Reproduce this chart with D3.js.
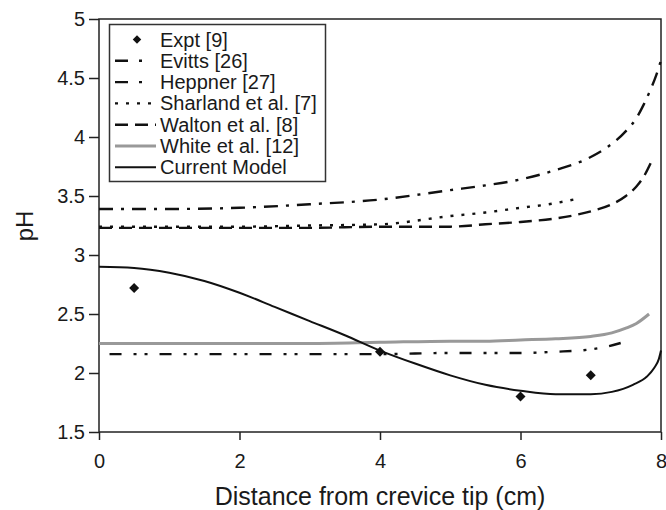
<!DOCTYPE html>
<html>
<head>
<meta charset="utf-8">
<script src="https://cdn.jsdelivr.net/npm/d3@7"></script>
<style>
  body { margin: 0; background: #fff; }
  text { font-family: "Liberation Sans", Arial, sans-serif; fill: #1a1a1a; }
</style>
</head>
<body>
<div class="grafico"></div>
<script>
// data
var xTicks = [0, 2, 4, 6, 8];
var yTicks = [1.5, 2, 2.5, 3, 3.5, 4, 4.5, 5];

var exptX = [0.5, 4, 6, 7];
var exptPH = [2.72, 2.18, 1.80, 1.98];

var evittsX = [0, 1, 2, 3, 4, 5, 5.5, 6, 6.5, 7, 7.25, 7.5, 7.65, 7.75, 7.85, 7.93, 8.0];
var evittsPH = [3.39, 3.39, 3.40, 3.43, 3.47, 3.55, 3.59, 3.64, 3.72, 3.83, 3.92, 4.05, 4.16, 4.27, 4.40, 4.52, 4.65];

var heppnerX = [0.15, 1, 2, 3, 4, 5, 6, 6.5, 7, 7.2, 7.4, 7.57];
var heppnerPH = [2.16, 2.16, 2.16, 2.16, 2.16, 2.17, 2.17, 2.18, 2.20, 2.22, 2.25, 2.28];

var sharlandX = [0, 1, 2, 3, 4, 5, 5.5, 6, 6.4, 6.76];
var sharlandPH = [3.24, 3.24, 3.24, 3.25, 3.26, 3.33, 3.36, 3.40, 3.43, 3.47];

var waltonX = [0, 1, 2, 3, 4, 5, 5.5, 6, 6.5, 7, 7.3, 7.5, 7.65, 7.75, 7.87];
var waltonPH = [3.23, 3.23, 3.23, 3.23, 3.24, 3.24, 3.26, 3.28, 3.31, 3.37, 3.43, 3.50, 3.58, 3.66, 3.80];

var whiteX = [0, 1, 2, 3, 4, 5, 5.5, 6, 6.5, 7, 7.3, 7.5, 7.65, 7.83];
var whitePH = [2.25, 2.25, 2.25, 2.25, 2.26, 2.27, 2.27, 2.28, 2.29, 2.31, 2.34, 2.38, 2.42, 2.50];

var modelX = [0, 0.5, 1, 1.5, 2, 2.5, 3, 3.5, 4, 4.5, 5, 5.5, 6, 6.5, 7, 7.3, 7.6, 7.8, 7.9, 7.97, 8.0];
var modelPH = [2.90, 2.89, 2.85, 2.78, 2.68, 2.56, 2.44, 2.32, 2.19, 2.08, 1.98, 1.90, 1.85, 1.82, 1.82, 1.84, 1.90, 1.97, 2.04, 2.12, 2.19];

var series = [
  { name: 'Evitts [26]', x: evittsX, y: evittsPH, color: '#111', width: 2.4, dash: '14,8,3,8' },
  { name: 'Heppner [27]', x: heppnerX, y: heppnerPH, color: '#111', width: 2.4, dash: '12,12,3,8,3,12' },
  { name: 'Sharland et al. [7]', x: sharlandX, y: sharlandPH, color: '#111', width: 2.4, dash: '3,8' },
  { name: 'Walton et al. [8]', x: waltonX, y: waltonPH, color: '#111', width: 2.4, dash: '13,7' },
  { name: 'White et al. [12]', x: whiteX, y: whitePH, color: '#999', width: 3, dash: null },
  { name: 'Current Model', x: modelX, y: modelPH, color: '#111', width: 2, dash: null }
];

var contenedor = d3
  .select('.grafico')
  .append('svg')
  .attr('width', 666)
  .attr('height', 510);

var xScale = d3.scaleLinear().domain([0, 8]).range([99, 661]);
var yScale = d3.scaleLinear().domain([1.5, 5]).range([432, 19]);

var xAxis = d3.axisBottom(xScale).tickValues(xTicks).tickSize(8).tickPadding(14).tickFormat(d3.format('d'));
var yAxis = d3.axisLeft(yScale).tickValues(yTicks).tickSize(10).tickPadding(4).tickFormat(function (d) { return d; });

contenedor
  .append('g')
  .attr('transform', 'translate(0, 432)')
  .call(xAxis)
  .call(function (g) { g.select('.domain').remove(); });

contenedor
  .append('g')
  .attr('transform', 'translate(99, 0)')
  .call(yAxis)
  .call(function (g) { g.select('.domain').remove(); });

contenedor.selectAll('.tick line').attr('stroke', '#222').attr('stroke-width', 1.5);
contenedor.selectAll('.tick text')
  .attr('font-size', 20)
  .attr('font-family', '"Liberation Sans", Arial, sans-serif')
  .attr('fill', '#1a1a1a');

// plot frame
contenedor
  .append('rect')
  .attr('x', xScale(0))
  .attr('y', yScale(5))
  .attr('width', xScale(8) - xScale(0))
  .attr('height', yScale(1.5) - yScale(5))
  .attr('fill', 'none')
  .attr('stroke', '#222')
  .attr('stroke-width', 1.5);

var linea = d3.line()
  .x(function (d) { return xScale(d[0]); })
  .y(function (d) { return yScale(d[1]); })
  .curve(d3.curveMonotoneX);

series.forEach(function (s) {
  var puntos = s.x.map(function (v, i) { return [v, s.y[i]]; });
  contenedor
    .append('path')
    .datum(puntos)
    .attr('d', linea)
    .attr('fill', 'none')
    .attr('stroke', s.color)
    .attr('stroke-width', s.width)
    .attr('stroke-dasharray', s.dash);
});

// square turned 45 degrees gives the even diamond of the original
var diamante = d3.symbol().type(d3.symbolSquare).size(50);

contenedor
  .selectAll('.expt')
  .data(exptX)
  .enter()
  .append('path')
  .attr('class', 'expt')
  .attr('d', diamante)
  .attr('fill', '#111')
  .attr('transform', function (d, i) {
    return 'translate(' + xScale(d) + ',' + yScale(exptPH[i]) + ') rotate(45)';
  });

// axis titles
contenedor
  .append('text')
  .attr('x', xScale(4))
  .attr('y', 505)
  .attr('text-anchor', 'middle')
  .attr('font-size', 25)
  .text('Distance from crevice tip (cm)');

contenedor
  .append('text')
  .attr('transform', 'translate(33, 226) rotate(-90)')
  .attr('text-anchor', 'middle')
  .attr('font-size', 24)
  .text('pH');

// legend
var leyenda = contenedor.append('g');

leyenda
  .append('rect')
  .attr('x', 109.5)
  .attr('y', 24.5)
  .attr('width', 216)
  .attr('height', 157)
  .attr('fill', '#fff')
  .attr('stroke', '#333')
  .attr('stroke-width', 1.5);

var filaY = 39.5;
var paso = 21.3;

leyenda
  .append('path')
  .attr('d', d3.symbol().type(d3.symbolSquare).size(36))
  .attr('fill', '#111')
  .attr('transform', 'translate(137,' + filaY + ') rotate(45)');

leyenda
  .append('text')
  .attr('x', 160)
  .attr('y', filaY + 7)
  .attr('font-size', 20)
  .text('Expt [9]');

series.forEach(function (s, i) {
  var yy = filaY + paso * (i + 1);
  leyenda
    .append('line')
    .attr('x1', 115)
    .attr('x2', 156)
    .attr('y1', yy)
    .attr('y2', yy)
    .attr('stroke', s.color)
    .attr('stroke-width', s.width)
    .attr('stroke-dasharray', i < 2 ? '13,11,3,20' : s.dash);
  leyenda
    .append('text')
    .attr('x', 160)
    .attr('y', yy + 7)
    .attr('font-size', 20)
    .text(s.name);
});
</script>
</body>
</html>
